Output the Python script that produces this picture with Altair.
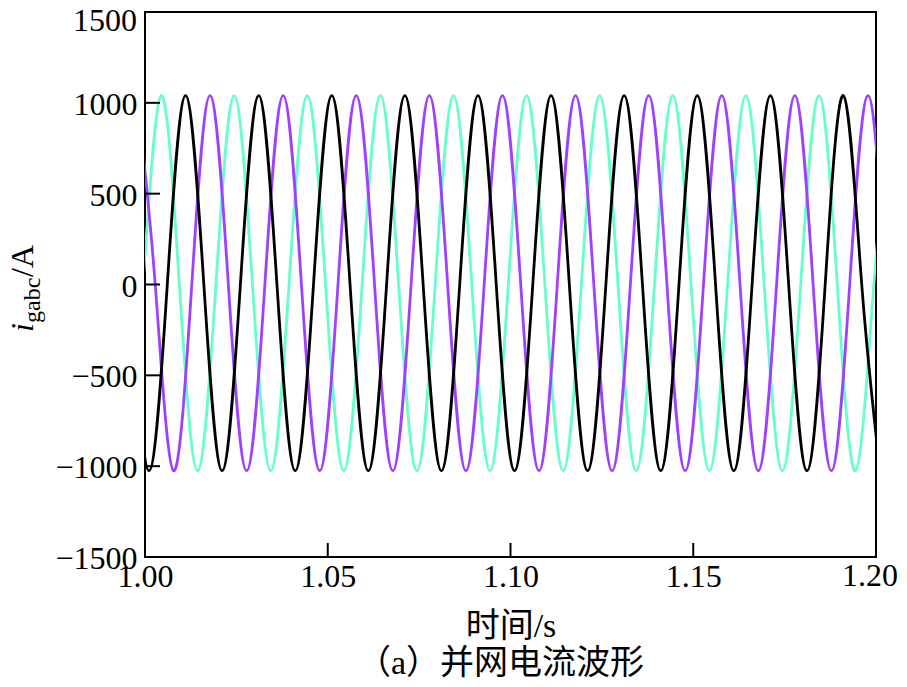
import altair as alt
import pandas as pd

# ---- data (quarter-period key points of each phase) ----
t_black = [0.9961, 1.0011, 1.0061, 1.0111, 1.0161, 1.0211, 1.0261, 1.0311, 1.0361, 1.0411,
           1.0461, 1.0511, 1.0561, 1.0611, 1.0661, 1.0711, 1.0761, 1.0811, 1.0861, 1.0911,
           1.0961, 1.1011, 1.1061, 1.1111, 1.1161, 1.1211, 1.1261, 1.1311, 1.1361, 1.1411,
           1.1461, 1.1511, 1.1561, 1.1611, 1.1661, 1.1711, 1.1761, 1.1811, 1.1861, 1.1911,
           1.1961, 1.2011]
v_black = [0, -1025, 0, 1040, 0, -1025, 0, 1040, 0, -1025,
           0, 1040, 0, -1025, 0, 1040, 0, -1025, 0, 1040,
           0, -1025, 0, 1040, 0, -1025, 0, 1040, 0, -1025,
           0, 1040, 0, -1025, 0, 1040, 0, -1025, 0, 1040,
           0, -1025]

t_green = [0.9944, 0.9994, 1.0044, 1.0094, 1.0144, 1.0194, 1.0244, 1.0294, 1.0344, 1.0394,
           1.0444, 1.0494, 1.0544, 1.0594, 1.0644, 1.0694, 1.0744, 1.0794, 1.0844, 1.0894,
           1.0944, 1.0994, 1.1044, 1.1094, 1.1144, 1.1194, 1.1244, 1.1294, 1.1344, 1.1394,
           1.1444, 1.1494, 1.1544, 1.1594, 1.1644, 1.1694, 1.1744, 1.1794, 1.1844, 1.1894,
           1.1944, 1.1994, 1.2044]
v_green = [-1025, 0, 1040, 0, -1025, 0, 1040, 0, -1025, 0,
           1040, 0, -1025, 0, 1040, 0, -1025, 0, 1040, 0,
           -1025, 0, 1040, 0, -1025, 0, 1040, 0, -1025, 0,
           1040, 0, -1025, 0, 1040, 0, -1025, 0, 1040, 0,
           -1025, 0, 1040]

t_purple = [0.9978, 1.0028, 1.0078, 1.0128, 1.0178, 1.0228, 1.0278, 1.0328, 1.0378, 1.0428,
            1.0478, 1.0528, 1.0578, 1.0628, 1.0678, 1.0728, 1.0778, 1.0828, 1.0878, 1.0928,
            1.0978, 1.1028, 1.1078, 1.1128, 1.1178, 1.1228, 1.1278, 1.1328, 1.1378, 1.1428,
            1.1478, 1.1528, 1.1578, 1.1628, 1.1678, 1.1728, 1.1778, 1.1828, 1.1878, 1.1928,
            1.1978, 1.2028]
v_purple = [1040, 0, -1025, 0, 1040, 0, -1025, 0, 1040, 0,
            -1025, 0, 1040, 0, -1025, 0, 1040, 0, -1025, 0,
            1040, 0, -1025, 0, 1040, 0, -1025, 0, 1040, 0,
            -1025, 0, 1040, 0, -1025, 0, 1040, 0, -1025, 0,
            1040, 0]

x_ticks = [1.00, 1.05, 1.10, 1.15, 1.20]
y_ticks = [-1500, -1000, -500, 0, 500, 1000, 1500]
# end labels drawn as their own texts so they are not cut by the page edge
x_end_label = [1.20]
y_top_label = [1500]

x_title = "时间/s"
caption = "（a）并网电流波形"

# ---- styling ----
FONT = "Liberation Serif, Noto Sans CJK SC"
W, H = 731, 545
C_GREEN = "#66FFCC"
C_PURPLE = "#A040FF"
C_BLACK = "#000000"

xs = alt.Scale(domain=[1.0, 1.2], nice=False, zero=False)
ys = alt.Scale(domain=[-1500, 1500], nice=False, zero=False)

X_AX = alt.Axis(values=x_ticks[:-1], format=".2f", title=x_title, tickSize=0, domain=False,
                grid=False, labelFont=FONT, labelFontSize=32, labelColor="black",
                labelPadding=4, labelFlush=False, labelOverlap=False,
                titleFont=FONT, titleFontSize=34, titleFontWeight="normal",
                titleColor="black", titlePadding=17)
Y_AX = alt.Axis(values=y_ticks[:-1], format="d", title=None, tickSize=0, domain=False,
                grid=False, labelFont=FONT, labelFontSize=32, labelColor="black",
                labelPadding=8, labelFlush=False, labelOverlap=False, labelOffset=1.5)


def wave(t, v, color):
    df = pd.DataFrame({"t": t, "v": v})
    return alt.Chart(df).mark_line(color=color, strokeWidth=2.8, interpolate="natural",
                                   clip=True).encode(
        x=alt.X("t:Q", scale=xs, axis=X_AX),
        y=alt.Y("v:Q", scale=ys, axis=Y_AX),
    )


# inward tick marks, placed through the shared scales
xt = alt.Chart(pd.DataFrame({"t": x_ticks})).mark_rule(color="black", strokeWidth=2).encode(
    x=alt.X("t:Q", scale=xs, axis=X_AX), y=alt.value(H), y2=alt.value(H - 14))
yt = alt.Chart(pd.DataFrame({"v": y_ticks})).mark_rule(color="black", strokeWidth=2).encode(
    y=alt.Y("v:Q", scale=ys, axis=Y_AX), x=alt.value(0), x2=alt.value(15))
ytop = alt.Chart(pd.DataFrame({"v": y_top_label})).mark_text(
    font=FONT, fontSize=32, color="black", align="right", baseline="middle", dy=9).encode(
    y=alt.Y("v:Q", scale=ys, axis=Y_AX), x=alt.value(-8), text=alt.Text("v:Q", format="d"))
xend = alt.Chart(pd.DataFrame({"t": x_end_label})).mark_text(
    font=FONT, fontSize=32, color="black", align="right", baseline="top", dx=22).encode(
    x=alt.X("t:Q", scale=xs, axis=X_AX), y=alt.value(H + 4), text=alt.Text("t:Q", format=".2f"))

one = pd.DataFrame({"a": [0]})


def label(txt, x, y, size, angle=0, style="normal", align="left", baseline="alphabetic"):
    kw = dict(text=txt, fontSize=size, font=FONT, fontStyle=style, align=align,
              baseline=baseline, color="black")
    if angle:
        kw["angle"] = angle
    return alt.Chart(one).mark_text(**kw).encode(x=alt.value(x), y=alt.value(y))


y_i = label("i", -112, 320, 32, angle=270, style="italic")
y_sub = label("gabc", -105, 311, 24, angle=270)
y_unit = label("/A", -112, 265, 32, angle=270)
cap = label(caption, W / 2 - 10, 652, 34, align="center", baseline="middle")

chart = alt.layer(
    wave(t_green, v_green, C_GREEN),
    wave(t_purple, v_purple, C_PURPLE),
    wave(t_black, v_black, C_BLACK),
    xt, yt, ytop, xend, y_i, y_sub, y_unit, cap,
).properties(
    width=W, height=H,
    padding={"left": 137, "top": 4, "right": 23, "bottom": 122},
    autosize=alt.AutoSizeParams(type="none"),
    background="white",
).configure_view(stroke="black", strokeWidth=2)

chart.save("out.html", embed_options={"renderer": "svg", "actions": False})
